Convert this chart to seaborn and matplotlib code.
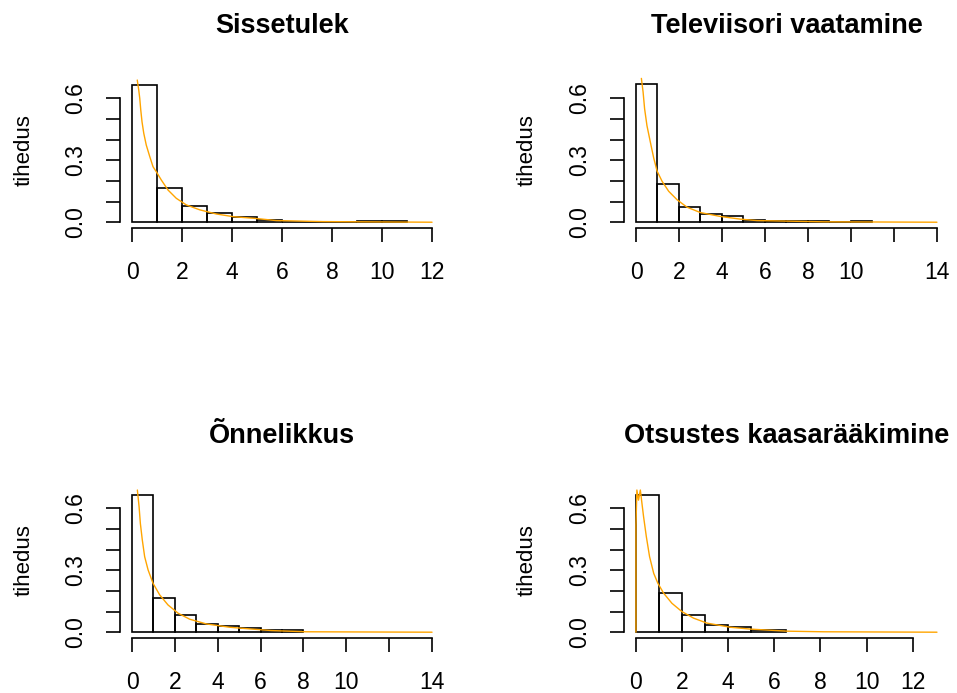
import numpy as np
import seaborn as sns
import matplotlib.pyplot as plt

# histogram bins and densities
titles = ['Sissetulek', 'Televiisori vaatamine', 'Õnnelikkus', 'Otsustes kaasarääkimine']

edges1 = [0, 1, 2, 3, 4, 5, 6, 7, 8, 9, 10, 11]
dens1 = [0.664, 0.167, 0.080, 0.043, 0.027, 0.011, 0.003, 0.003, 0.003, 0.006, 0.006]
edges2 = [0, 1, 2, 3, 4, 5, 6, 7, 8, 9, 10, 11]
dens2 = [0.672, 0.186, 0.072, 0.039, 0.028, 0.010, 0.004, 0.004, 0.004, 0.0, 0.007]
edges3 = [0, 1, 2, 3, 4, 5, 6, 7, 8]
dens3 = [0.665, 0.168, 0.081, 0.040, 0.032, 0.021, 0.011, 0.011]
edges4 = [0, 1, 2, 3, 4, 5, 6.5]
dens4 = [0.665, 0.192, 0.081, 0.034, 0.023, 0.011]

# density curves (orange)
cx1 = [0.21, 0.27, 0.31, 0.35, 0.40, 0.47, 0.57, 0.71, 0.84, 0.97, 1.17, 1.44, 1.77,
       2.17, 2.71, 3.37, 4.04, 4.97, 5.77, 7.64, 12.0]
cy1 = [0.689, 0.640, 0.600, 0.544, 0.487, 0.431, 0.374, 0.318, 0.269, 0.245, 0.205,
       0.156, 0.116, 0.084, 0.060, 0.040, 0.027, 0.018, 0.008, 0.003, 0.0]
cx2 = [0.25, 0.33, 0.40, 0.51, 0.67, 0.82, 0.98, 1.21, 1.52, 1.91, 2.37, 2.99, 3.92,
       4.85, 5.63, 8.73, 14.0]
cy2 = [0.697, 0.631, 0.550, 0.468, 0.387, 0.313, 0.248, 0.199, 0.150, 0.109, 0.073,
       0.047, 0.028, 0.015, 0.008, 0.002, 0.0]
cx3 = [0.25, 0.33, 0.39, 0.48, 0.59, 0.75, 0.98, 1.29, 1.68, 2.15, 2.69, 3.47, 4.56,
       5.49, 6.50, 8.13, 14.0]
cy3 = [0.689, 0.608, 0.527, 0.447, 0.366, 0.302, 0.237, 0.181, 0.132, 0.092, 0.063,
       0.040, 0.024, 0.016, 0.008, 0.002, 0.0]
cx4 = [0.0, 0.0, 0.04, 0.11, 0.19, 0.26, 0.33, 0.45, 0.59, 0.77, 0.95, 1.20, 1.56,
       1.99, 2.50, 3.08, 4.09, 4.96, 6.55, 8.14, 13.05]
cy4 = [0.0, 0.519, 0.689, 0.640, 0.689, 0.624, 0.560, 0.463, 0.366, 0.285, 0.237,
       0.189, 0.140, 0.100, 0.068, 0.044, 0.024, 0.015, 0.005, 0.002, 0.0]

xticks12 = [0, 2, 4, 6, 8, 10, 12]
xlabels12 = ['0', '2', '4', '6', '8', '10', '12']
xticks14 = [0, 2, 4, 6, 8, 10, 12, 14]
xlabels14 = ['0', '2', '4', '6', '8', '10', '', '14']
yticks = [0.0, 0.1, 0.2, 0.3, 0.4, 0.5, 0.6]
ylabels = ['0.0', '', '', '0.3', '', '', '0.6']

sns.set_style('white')
plt.rcParams['font.family'] = ['Liberation Sans', 'DejaVu Sans']
plt.rcParams['text.color'] = 'black'
plt.rcParams['axes.labelcolor'] = 'black'
plt.rcParams['xtick.color'] = 'black'
plt.rcParams['ytick.color'] = 'black'

fig = plt.figure(figsize=(9.57, 6.93), dpi=100)

panels = [
    (edges1, dens1, cx1, cy1, xticks12, xlabels12, (-0.48, 12.48), [0.1254, 0.6710, 0.3386, 0.2251]),
    (edges2, dens2, cx2, cy2, xticks14, xlabels14, (-0.56, 14.56), [0.6520, 0.6710, 0.3396, 0.2251]),
    (edges3, dens3, cx3, cy3, xticks14, xlabels14, (-0.56, 14.56), [0.1254, 0.0794, 0.3386, 0.2251]),
    (edges4, dens4, cx4, cy4, xticks12, xlabels12, (-0.52, 13.57), [0.6520, 0.0794, 0.3396, 0.2251]),
]

for i, (edges, dens, cx, cy, xt, xl, xlim, pos) in enumerate(panels):
    ax = fig.add_axes(pos)
    mids = [(edges[k] + edges[k + 1]) / 2 for k in range(len(dens))]
    sns.histplot(x=mids, weights=dens, bins=edges, fill=False, color='black',
                 element='bars', linewidth=1.2, ax=ax)
    sns.lineplot(x=cx, y=cy, color='#FFA500', sort=False, estimator=None,
                 linewidth=1.0, ax=ax)
    ax.set_xlim(xlim)
    ax.set_ylim(-0.028, 0.728)
    ax.set_xticks(xt)
    ax.set_xticklabels(xl)
    ax.set_yticks(yticks)
    ax.set_yticklabels(ylabels, rotation=90, va='center')
    for s in ['top', 'right']:
        ax.spines[s].set_visible(False)
    ax.spines['left'].set_bounds(0, 0.6)
    ax.spines['bottom'].set_bounds(xt[0], xt[-1])
    for s in ['left', 'bottom']:
        ax.spines[s].set_color('black')
        ax.spines[s].set_linewidth(1.2)
    ax.tick_params(axis='both', direction='out', length=10, width=1.2,
                   color='black', labelsize=16.5, pad=14, left=True, bottom=True)
    ax.set_xlabel('')
    ax.set_ylabel('tihedus', fontsize=16)
    ax.yaxis.set_label_coords(-0.265, 0.5)
    ax.set_title(titles[i], fontsize=19.5, fontweight='bold', pad=28)

fig.savefig('out.png', dpi=100)
